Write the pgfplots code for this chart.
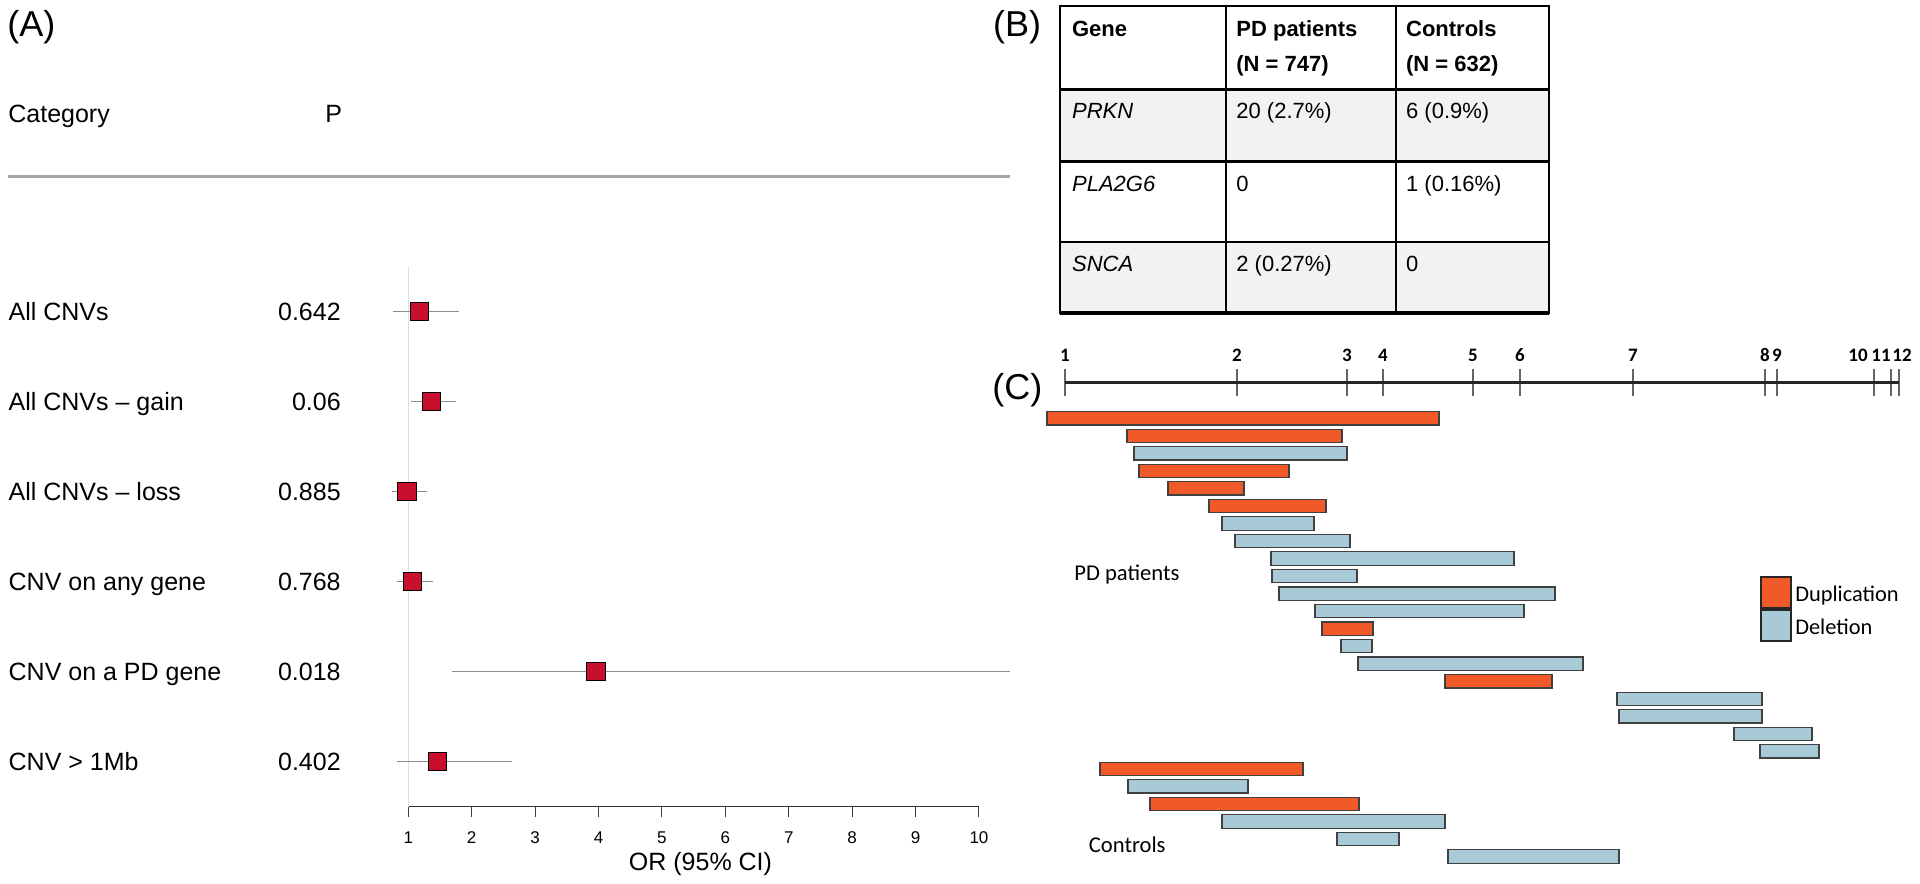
\documentclass[border=0pt]{standalone}
\usepackage{fontspec}
\setmainfont{Liberation Sans}
\newfontfamily\carlito{Carlito}
\usepackage{pgfplots}
\pgfplotsset{compat=1.18}
\usepackage{pgfplotstable}

\definecolor{fpred}{RGB}{200,16,46}
\definecolor{cigray}{RGB}{140,140,140}
\definecolor{refgray}{RGB}{222,222,222}
\definecolor{sepgray}{RGB}{165,165,165}
\definecolor{dupc}{RGB}{240,90,40}
\definecolor{delc}{RGB}{168,202,215}
\definecolor{tblgray}{RGB}{242,242,242}

% Forest plot: row, OR, lower CI, upper CI
\pgfplotstableread{
row or lo hi
6 1.18 0.76 1.80
5 1.36 1.05 1.76
4 0.98 0.75 1.29
3 1.07 0.82 1.39
2 3.96 1.69 10.49
1 1.46 0.82 2.63
}\forestdata

% CNVs: row, start, duplication length, deletion length
\pgfplotstableread{
row start dup del
1 47 392 0
2 127 215 0
3 134 0 213
4 139 150 0
5 168 76 0
6 209 117 0
7 222 0 92
8 235 0 115
9 271 0 243
10 272 0 85
11 279 0 276
12 315 0 209
13 322 51 0
14 341 0 31
15 358 0 225
16 445 107 0
17 617 0 145
18 619 0 143
19 734 0 78
20 760 0 59
21 100 203 0
22 128 0 120
23 150 209 0
24 222 0 223
25 337 0 62
26 448 0 171
}\cnvdata

\begin{document}
\begin{tikzpicture}
% ---------------- Panel A ----------------
\begin{scope}[x=0.5pt,y=-0.5pt]
\node[anchor=base west, inner sep=0pt, font=\fontsize{18}{20}\selectfont] at (7,36.7) {(A)};
\node[anchor=base west, inner sep=0pt, font=\fontsize{12.5}{15}\selectfont] at (8,122) {Category};
\node[anchor=base west, inner sep=0pt, font=\fontsize{12.5}{15}\selectfont] at (325,122) {P};
\draw[sepgray, line width=1.25pt] (8,176.7) -- (1010,176.7);
\end{scope}

\begin{axis}[
  at={(204.15pt,-403.35pt)}, anchor=south west,
  scale only axis, width=285.35pt, height=270pt,
  xmin=1, xmax=10, ymin=0.5, ymax=6.5, clip=false,
  axis x line*=bottom, axis y line*=left,
  y axis line style={draw=none}, ytick style={draw=none},
  x axis line style={black!80, line width=0.5pt},
  xtick={1,2,3,4,5,6,7,8,9,10},
  tick align=outside, major tick length=5pt,
  xtick style={black!75, line width=0.5pt},
  /pgf/number format/assume math mode=true,
  xticklabel style={font=\fontsize{8.5}{10}\selectfont, inner sep=0pt, anchor=north, yshift=-7.5pt},
  ytick={1,2,3,4,5,6},
  yticklabels={
    {\hbox to 166pt{CNV > 1Mb\hfill 0.402}},
    {\hbox to 166pt{CNV on a PD gene\hfill 0.018}},
    {\hbox to 166pt{CNV on any gene\hfill 0.768}},
    {\hbox to 166pt{All CNVs – loss\hfill 0.885}},
    {\hbox to 166pt{All CNVs – gain\hfill 0.06}},
    {\hbox to 166pt{All CNVs\hfill 0.642}}},
  yticklabel style={anchor=base east, inner sep=0pt, xshift=-28.6pt, yshift=-4.5pt, font=\fontsize{12.5}{15}\selectfont},
  xlabel={OR (95\% CI)},
  xlabel style={at={(axis description cs:0.512,0)}, anchor=base, yshift=-31.65pt, inner sep=0pt, font=\fontsize{12.5}{15}\selectfont},
]
\addplot[refgray, line width=0.5pt] coordinates {(1,0.5) (1,6.5)};
\addplot[only marks, mark=none,
  error bars/.cd, x dir=both, x explicit, error mark=none,
  error bar style={cigray, line width=0.75pt}]
  table[x=or, y=row, x error minus expr=\thisrow{or}-\thisrow{lo}, x error plus expr=\thisrow{hi}-\thisrow{or}] {\forestdata};
\addplot[only marks, mark=square*, mark size=4.575pt, mark options={fill=fpred, draw=none}]
  table[x=or, y=row] {\forestdata};
\end{axis}

% ---------------- Panel B ----------------
\begin{scope}[x=0.5pt,y=-0.5pt]
\node[anchor=base west, inner sep=0pt, font=\fontsize{18}{20}\selectfont] at (992.7,37) {(B)};
\fill[tblgray] (1060,89.3) rectangle (1549,161.7);
\fill[tblgray] (1060,241.7) rectangle (1549,313);
\draw[black, line width=0.9pt] (1060,5.7) rectangle (1549,313);
\draw[black, line width=0.9pt] (1225.7,5.7) -- (1225.7,313);
\draw[black, line width=0.9pt] (1396,5.7) -- (1396,313);
\draw[black, line width=1.6pt] (1060,89.3) -- (1549,89.3);
\draw[black, line width=1.6pt] (1060,161.7) -- (1549,161.7);
\draw[black, line width=0.9pt] (1060,241.7) -- (1549,241.7);
\draw[black, line width=1.6pt] (1060,313) -- (1549,313);
\begin{scope}[every node/.style={anchor=base west, inner sep=0pt, font=\fontsize{11}{13}\selectfont}]
\node[font=\bfseries\fontsize{11}{13}\selectfont] at (1071.7,36.7) {Gene};
\node[font=\bfseries\fontsize{11}{13}\selectfont] at (1236,36.7) {PD patients};
\node[font=\bfseries\fontsize{11}{13}\selectfont] at (1236,71.7) {(N = 747)};
\node[font=\bfseries\fontsize{11}{13}\selectfont] at (1405.7,36.7) {Controls};
\node[font=\bfseries\fontsize{11}{13}\selectfont] at (1405.7,71.7) {(N = 632)};
\node[font=\itshape\fontsize{11}{13}\selectfont] at (1071.7,119) {PRKN};
\node at (1236,119) {20 (2.7\%)};
\node at (1405.7,119) {6 (0.9\%)};
\node[font=\itshape\fontsize{11}{13}\selectfont] at (1071.7,191.7) {PLA2G6};
\node at (1236,191.7) {0};
\node at (1405.7,191.7) {1 (0.16\%)};
\node[font=\itshape\fontsize{11}{13}\selectfont] at (1071.7,271.7) {SNCA};
\node at (1236,271.7) {2 (0.27\%)};
\node at (1405.7,271.7) {0};
\end{scope}

% ---------------- Panel C labels ----------------
\node[anchor=base west, inner sep=0pt, font=\fontsize{18}{20}\selectfont] at (992,399) {(C)};
\node[anchor=base west, inner sep=0pt, font=\carlito\fontsize{11.3}{13}\selectfont] at (1074,580) {PD patients};
\node[anchor=base west, inner sep=0pt, font=\carlito\fontsize{11.3}{13}\selectfont] at (1088.5,852.7) {Controls};
\end{scope}

% exon ruler
\begin{axis}[
  at={(532.5pt,-191.35pt)}, anchor=north west,
  scale only axis, width=417pt, height=5pt,
  xmin=65, xmax=899, ymin=0, ymax=1,
  axis x line*=top, axis y line=none,
  xtick={65,237,347,383,473,520,633,765,777,874,891,899},
  xticklabels={1,2,3,4,5,6,7,8,9,{10\kern16pt},{11\kern10pt},{\kern3pt 12}},
  tick align=center, major tick length=13.35pt,
  x axis line style={black!85, line width=1.5pt},
  xtick style={black!60, line width=1pt},
  /pgf/number format/assume math mode=true,
  xticklabel style={font=\carlito\bfseries\fontsize{9.5}{11}\selectfont, inner sep=0pt, anchor=south, yshift=3.5pt},
]
\addplot[draw=none, mark=none] coordinates {(65,1) (899,1)};
\end{axis}

% CNV bars
\begin{axis}[
  at={(517.5pt,-204.75pt)}, anchor=north west,
  scale only axis, width=440pt, height=227.9pt,
  xmin=35, xmax=915, ymin=0.5, ymax=26.5, y dir=reverse,
  hide axis,
  xbar stacked, bar width=0.76,
  legend image code/.code={\draw[#1, draw=black!85, line width=0.9pt] (0pt,-6.7pt) rectangle (15pt,8.95pt);},
  legend style={at={(axis description cs:0.8239,0.6354)}, anchor=north west, draw=none, fill=none,
    inner sep=0pt, row sep=0pt, font=\carlito\fontsize{11.2}{13}\selectfont,
    nodes={inner sep=1.5pt}},
  legend cell align=left,
]
\addplot[draw=none, fill=none, forget plot] table[x=start, y=row] {\cnvdata};
\addplot[fill=dupc, draw=black!75, line width=0.6pt] table[x=dup, y=row] {\cnvdata};
\addlegendentry{Duplication}
\addplot[fill=delc, draw=black!75, line width=0.6pt] table[x=del, y=row] {\cnvdata};
\addlegendentry{Deletion}
\end{axis}

\pgfresetboundingbox
\path[use as bounding box] (0pt,0pt) rectangle (960pt,-441.5pt);
\end{tikzpicture}
\end{document}
